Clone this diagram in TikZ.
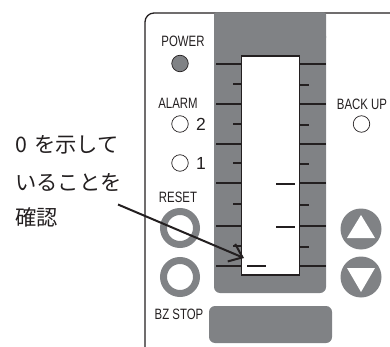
\documentclass[tikz,border=0pt]{standalone}
\usepackage{fontspec}
\usetikzlibrary{arrows.meta}
\newfontfamily\cjk{Noto Sans CJK JP}
\newfontfamily\panelfont[FakeStretch=0.76]{Liberation Sans}
\newfontfamily\digitfont{Liberation Sans}
\definecolor{panelgray}{HTML}{808285}
\definecolor{inkblack}{HTML}{231F20}
\tikzset{
    paneltext/.style={font=\panelfont\fontsize{15}{15}\selectfont, text=inkblack, inner sep=0pt},
    digittext/.style={font=\digitfont\fontsize{17.5}{17.5}\selectfont, text=inkblack, inner sep=0pt},
    notetext/.style={font=\cjk\fontsize{21.3}{21.3}\selectfont, text=inkblack, inner sep=0pt, anchor=west},
    lamp/.style={circle, draw=inkblack, line width=0.7pt, minimum size=16.5pt, inner sep=0pt},
    ringbtn/.style={circle, draw=panelgray, fill=white, line width=7pt, minimum size=33pt, inner sep=0pt},
    roundbtn/.style={circle, fill=panelgray, minimum size=41pt, inner sep=0pt},
    tick/.style={inkblack, line width=1.3pt},
    bar/.style={inkblack, line width=1.8pt}
}
\begin{document}
\begin{tikzpicture}[x=1pt,y=-1pt]
    \useasboundingbox (0,0) rectangle (390,347);

    % Panel outline
    \draw[inkblack, line width=1.3pt, rounded corners=9pt] (145,347) -- (145,13) -- (390,13);

    % Scale block and window
    \fill[panelgray, rounded corners=6pt] (214,30) -- (214,293) -- (326,293) -- (326,30) -- cycle;
    \fill[panelgray, rounded corners=2pt] (214,12.5) -- (214,40) -- (326,40) -- (326,12.5) -- cycle;
    \draw[inkblack, fill=white, line width=1.3pt] (241.5,56) rectangle (299.5,275);

    % Scale ticks
    \foreach \y in {64,104,144,183,226,266} {
        \draw[tick] (216,\y) -- (241.5,\y);
        \draw[tick] (299.5,\y) -- (325.5,\y);
    }
    \foreach \y/\z in {84/85,124/125,163/164,204/205,246/247} {
        \draw[tick] (233,\y) -- (241.5,\y);
        \draw[tick] (299.5,\z) -- (309,\z);
    }

    % Indicator bars
    \foreach \x/\y in {276/184,276/227,247/266} {
        \draw[bar] (\x,\y) -- ++(19,0);
    }

    % Lamps
    \node[paneltext] (powerlab) at (183,41) {POWER};
    \node[lamp, fill=panelgray] (power) at (180,63.5) {};
    \node[paneltext] (alarmlab) at (178,103) {ALARM};
    \node[lamp] (alarmtwo) at (180,124) {};
    \node[digittext] (twolab) at (201,124.5) {2};
    \node[lamp] (alarmone) at (180,163) {};
    \node[digittext] (onelab) at (201,163.5) {1};
    \node[paneltext] (backuplab) at (362,104) {BACK UP};
    \node[lamp] (backup) at (361.5,124) {};

    % Left buttons
    \node[paneltext] (resetlab) at (178,197) {RESET};
    \node[ringbtn] (reset) at (180,228) {};
    \node[ringbtn] (bzstop) at (180,277) {};
    \node[paneltext] (bzlab) at (179,314) {BZ STOP};
    \node[fill=panelgray, rounded corners=6pt, minimum width=123pt, minimum height=37pt, inner sep=0pt] (bzbox) at (270.5,324.5) {};

    % Right buttons
    \node[roundbtn] (upbtn) at (361,229) {};
    \fill[white] (361,215) -- (375,238) -- (347,238) -- cycle;
    \node[roundbtn] (downbtn) at (361,277) {};
    \fill[white] (347,268) -- (375,268) -- (361,292) -- cycle;

    % Note and arrow
    \node[notetext] (noteone) at (15,145) {0\hspace{7pt}を示して};
    \node[notetext] (notetwo) at (15,182) {いることを};
    \node[notetext] (notethree) at (15,217) {確認};
    \coordinate (arrowstart) at (118,204.5);
    \coordinate (arrowtip) at (244,258);
    \draw[inkblack, line width=2pt, -{Straight Barb[length=12pt,width=19pt]}] (arrowstart) -- (arrowtip);
\end{tikzpicture}
\end{document}
